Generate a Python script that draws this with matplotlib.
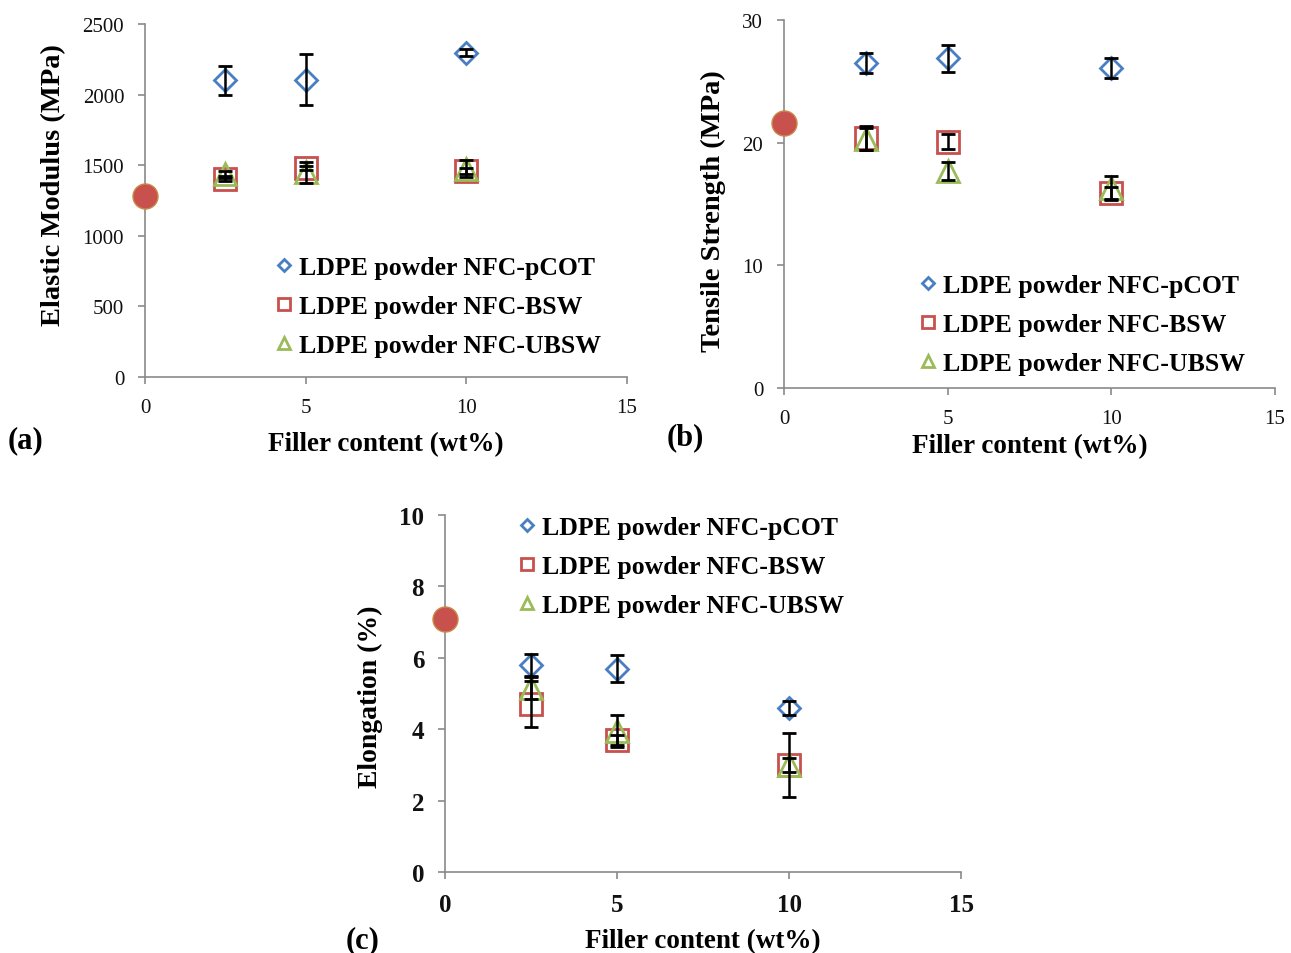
'''
Mechanical properties of LDPE powder / NFC composites vs filler content
'''

import matplotlib.pyplot as plt

plt.rcParams["font.family"] = ["Liberation Serif", "DejaVu Serif"]

filler = [2.5, 5, 10]
labels = ["LDPE powder NFC-pCOT", "LDPE powder NFC-BSW", "LDPE powder NFC-UBSW"]

# (a) elastic modulus, MPa
mod_neat = 1280
mod_pcot = [2100, 2105, 2295]
mod_pcot_err = [100, 180, 25]
mod_bsw = [1405, 1480, 1458]
mod_bsw_err = [20, 15, 20]
mod_ubsw = [1435, 1450, 1475]
mod_ubsw_err = [25, 75, 60]

# (b) tensile strength, MPa
ts_neat = 21.6
ts_pcot = [26.5, 26.9, 26.1]
ts_pcot_err = [0.8, 1.1, 0.8]
ts_bsw = [20.4, 20.1, 15.9]
ts_bsw_err = [1.0, 0.6, 0.5]
ts_ubsw = [20.3, 17.7, 16.3]
ts_ubsw_err = [0.9, 0.75, 1.0]

# (c) elongation, %
el_neat = 7.08
el_pcot = [5.8, 5.7, 4.6]
el_pcot_err = [0.3, 0.38, 0.2]
el_bsw = [4.7, 3.7, 3.0]
el_bsw_err = [0.65, 0.15, 0.9]
el_ubsw = [5.15, 3.95, 3.0]
el_ubsw_err = [0.3, 0.45, 0.2]

blue = "#4A7EC2"
red = "#C8504D"
green = "#9BBB59"
grey = "#8a8a8a"

fig = plt.figure(figsize=(12.91, 9.54), dpi=100)
ax_a = fig.add_axes([0.1123, 0.6038, 0.3734, 0.3700])
ax_b = fig.add_axes([0.6073, 0.5922, 0.3803, 0.3857])
ax_c = fig.add_axes([0.3447, 0.0849, 0.3997, 0.3742])


def draw(ax, neat, series, ylim, yticks, ylabel, bold_ticks, legend_xy,
         xpad, ysize, ylab_y):
    styles = [("D", 11.5, blue), ("s", 16, red), ("^", 16, green)]
    for (vals, errs), (m, ms, c), lab in zip(series, styles, labels):
        ax.plot(filler, vals, linestyle="none", marker=m, markersize=ms,
                markerfacecolor="none", markeredgecolor=c, markeredgewidth=2,
                label=lab, zorder=2)
        ax.errorbar(filler, vals, yerr=errs, fmt="none", ecolor="black",
                    elinewidth=1.8, capsize=4.8, capthick=2, zorder=3)
    # neat LDPE powder reference point
    ax.plot([0], [neat], linestyle="none", marker="o", markersize=18,
            markerfacecolor=red, markeredgecolor="#C98A45", markeredgewidth=1,
            clip_on=False, zorder=4)

    ax.set_xlim(0, 15)
    ax.set_ylim(*ylim)
    ax.set_xticks([0, 5, 10, 15])
    ax.set_yticks(yticks)
    for s in ["top", "right"]:
        ax.spines[s].set_visible(False)
    for s in ["left", "bottom"]:
        ax.spines[s].set_color(grey)
        ax.spines[s].set_linewidth(1.2)
    weight = "bold" if bold_ticks else "normal"
    size = 18 if bold_ticks else 15
    ax.tick_params(colors=grey, length=5, width=1.2, labelcolor="#111111",
                   labelsize=size, pad=10)
    for t in ax.get_xticklabels() + ax.get_yticklabels():
        t.set_fontweight(weight)

    ax.set_xlabel("Filler content (wt%)", fontsize=19.5, fontweight="bold",
                  labelpad=xpad)
    ax.set_ylabel(ylabel, fontsize=ysize, fontweight="bold", labelpad=12)
    ax.yaxis.label.set_y(ylab_y)

    ax.legend(loc="upper left", bbox_to_anchor=legend_xy,
              bbox_transform=fig.transFigure, frameon=False,
              prop={"size": 18.5, "weight": "bold"}, markerscale=0.55,
              handlelength=0.6, handletextpad=0.3, labelspacing=0.62,
              borderpad=0, borderaxespad=0)


draw(ax_a, mod_neat,
     [(mod_pcot, mod_pcot_err), (mod_bsw, mod_bsw_err), (mod_ubsw, mod_ubsw_err)],
     (0, 2500), [0, 500, 1000, 1500, 2000, 2500], "Elastic Modulus (MPa)",
     False, (276 / 1291, 1 - 257 / 954), 10.5, 20.5, 0.547)

draw(ax_b, ts_neat,
     [(ts_pcot, ts_pcot_err), (ts_bsw, ts_bsw_err), (ts_ubsw, ts_ubsw_err)],
     (0, 30), [0, 10, 20, 30], "Tensile Strength (MPa)",
     False, (920 / 1291, 1 - 275 / 954), 4, 20.5, 0.484)

draw(ax_c, el_neat,
     [(el_pcot, el_pcot_err), (el_bsw, el_bsw_err), (el_ubsw, el_ubsw_err)],
     (0, 10), [0, 2, 4, 6, 8, 10], "Elongation (%)",
     True, (519 / 1291, 1 - 517 / 954), 9, 20, 0.493)

fig.text(8 / 1291, 1 - 441 / 954, "(a)", fontsize=22, fontweight="bold",
         va="center")
fig.text(667 / 1291, 1 - 438 / 954, "(b)", fontsize=22, fontweight="bold",
         va="center")
fig.text(346 / 1291, 1 - 941 / 954, "(c)", fontsize=22, fontweight="bold",
         va="center")

fig.savefig("out.png", dpi=100)
